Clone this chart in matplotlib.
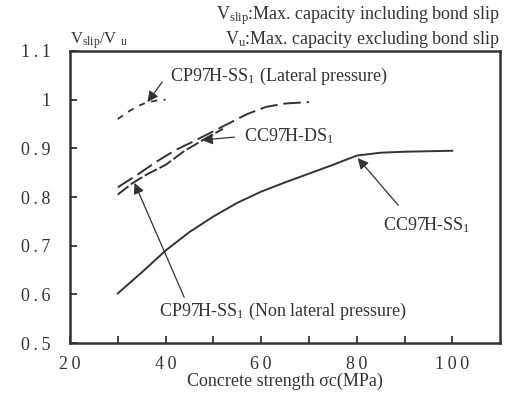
import matplotlib
matplotlib.use("Agg")
import matplotlib.pyplot as plt

plt.rcParams["font.family"] = ["Liberation Serif", "DejaVu Serif"]
plt.rcParams["mathtext.fontset"] = "custom"
plt.rcParams["mathtext.rm"] = "Liberation Serif"
plt.rcParams["mathtext.it"] = "Liberation Serif:italic"

INK = "#333333"
TS = "\u2009"

# CC97H-SS1, solid curve
ss1_x = [30, 35, 40, 45, 50, 55, 60, 65, 70, 75, 80, 85, 90, 95, 100]
ss1_y = [0.602, 0.645, 0.690, 0.728, 0.760, 0.788, 0.811, 0.830, 0.848, 0.866, 0.885, 0.891, 0.893, 0.894, 0.895]

# CC97H-DS1, long dashes
ds1_x = [30, 34, 38, 42, 46, 50, 54, 57, 61, 65, 70]
ds1_y = [0.820, 0.845, 0.872, 0.896, 0.915, 0.935, 0.955, 0.970, 0.985, 0.992, 0.995]

# CP97H-SS1 without lateral pressure
cp_nl_x = [30, 33, 36, 40, 44, 48, 52]
cp_nl_y = [0.805, 0.828, 0.846, 0.866, 0.895, 0.918, 0.940]

# CP97H-SS1 with lateral pressure, short dashes
cp_lat_x = [30, 32, 34, 36, 38, 40]
cp_lat_y = [0.960, 0.974, 0.986, 0.994, 0.998, 1.000]

x_ticks = [20, 30, 40, 50, 60, 70, 80, 90, 100]
x_labels = ["2" + TS + "0", "", "4" + TS + "0", "", "6" + TS + "0", "", "8" + TS + "0", "", "1" + TS + "0" + TS + "0"]
y_ticks = [0.5, 0.6, 0.7, 0.8, 0.9, 1.0, 1.1]
y_labels = ["0" + TS + "." + TS + "5", "0" + TS + "." + TS + "6", "0" + TS + "." + TS + "7",
            "0" + TS + "." + TS + "8", "0" + TS + "." + TS + "9", "1", "1" + TS + "." + TS + "1"]

fig = plt.figure(figsize=(5.09, 3.98), dpi=100)
ax = fig.add_axes([0.1375, 0.138, 0.845, 0.734])

ax.plot(ss1_x, ss1_y, color=INK, lw=1.4)
ax.plot(ds1_x, ds1_y, color=INK, lw=1.4, dashes=(9, 3))
ax.plot(cp_nl_x, cp_nl_y, color=INK, lw=1.4, dashes=(7, 1.5))
ax.plot(cp_lat_x, cp_lat_y, color=INK, lw=1.3, dashes=(3.5, 3.5))

ax.set_xlim(20, 110)
ax.set_ylim(0.5, 1.1)
ax.set_xticks(x_ticks)
ax.set_xticklabels(x_labels)
ax.set_yticks(y_ticks)
ax.set_yticklabels(y_labels)
ax.tick_params(direction="in", length=5, width=1.3, colors=INK, labelsize=13)
ax.tick_params(axis="x", pad=9)
ax.tick_params(axis="y", pad=14)
for side in ("left", "right", "top", "bottom"):
    ax.spines[side].set_linewidth(1.8)
    ax.spines[side].set_color(INK)
ax.set_xlabel("Concrete strength \u03c3c(MPa)", fontsize=13, color=INK, labelpad=0)

arrow = dict(arrowstyle="-|>", lw=0.9, color=INK, mutation_scale=16, shrinkA=0, shrinkB=0)
labels = [
    (r"CP97H-SS$_1$ (Lateral pressure)", (41, 1.048), (39.3, 1.036), (36.2, 0.995)),
    (r"CC97H-DS$_1$", (56.5, 0.925), (54.4, 0.923), (47.6, 0.917)),
    (r"CC97H-SS$_1$", (85.6, 0.742), (88.7, 0.783), (80.2, 0.880)),
    (r"CP97H-SS$_1$ (Non lateral pressure)", (38.7, 0.564), (43.9, 0.594), (33.5, 0.829)),
]
for text, pos, tail, tip in labels:
    ax.text(pos[0], pos[1], text, fontsize=13, color=INK, ha="left", va="center")
    ax.annotate("", xy=tip, xytext=tail, arrowprops=arrow)

fig.text(0.982, 0.962, r"V$_{\mathrm{slip}}$:Max. capacity including bond slip",
         fontsize=13, color=INK, ha="right", va="center")
fig.text(0.982, 0.902, r"V$_{\mathrm{u}}$:Max. capacity excluding bond slip",
         fontsize=13, color=INK, ha="right", va="center")
fig.text(0.1375, 0.897, r"V$_{\mathrm{slip}}$/V $_{\mathrm{u}}$",
         fontsize=12, color=INK, ha="left", va="center")

fig.savefig("out.png", dpi=100)
